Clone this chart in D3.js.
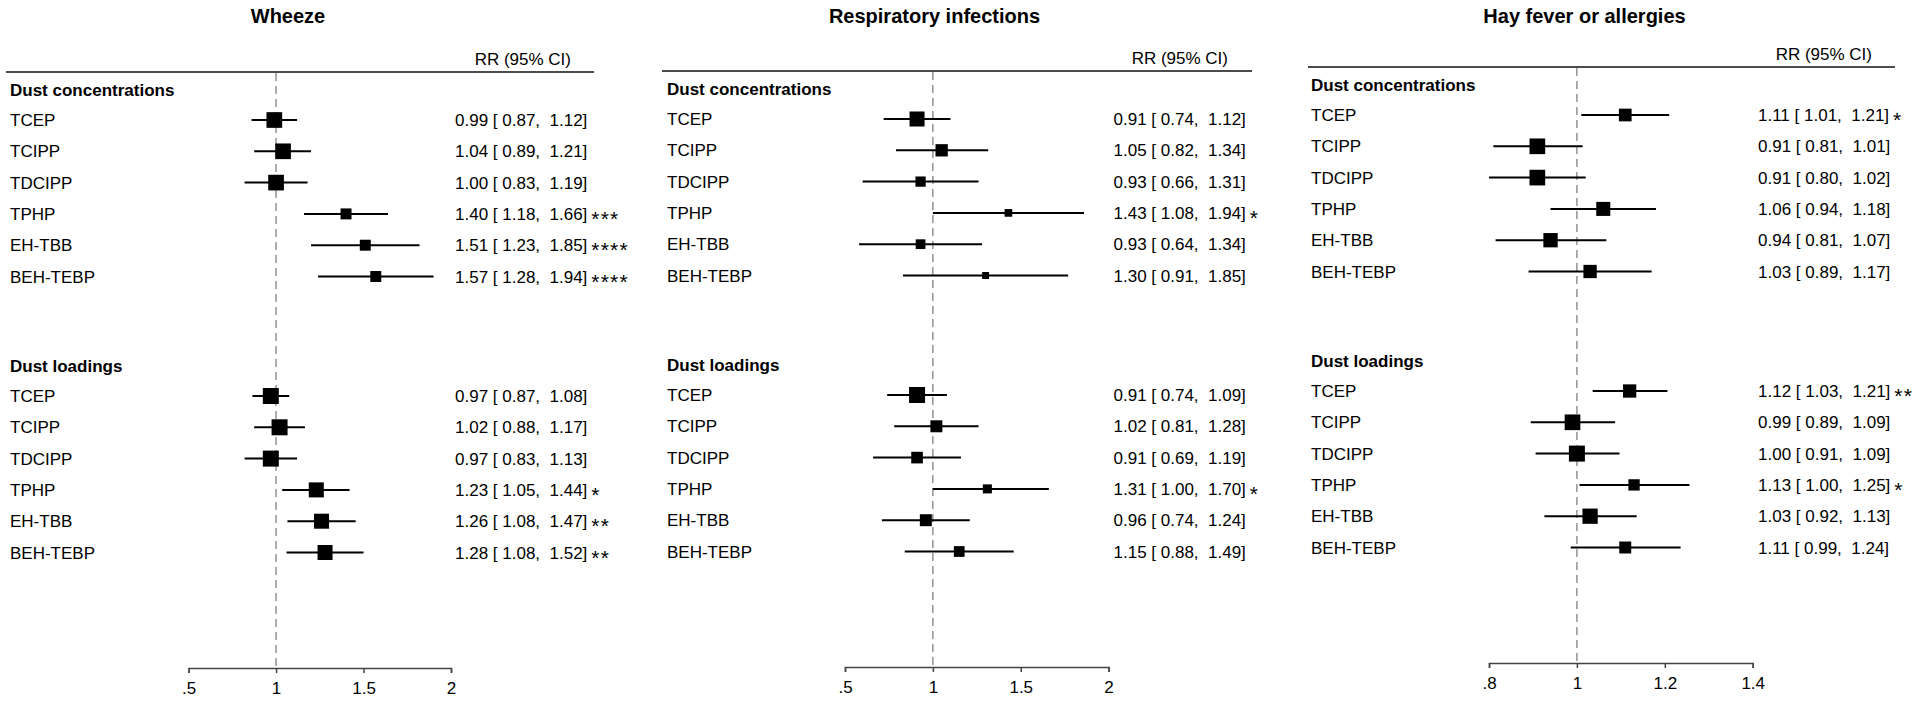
<!DOCTYPE html>
<html>
<head>
<meta charset="utf-8">
<script src="https://cdn.jsdelivr.net/npm/d3@7"></script>
<style>
  html, body { margin: 0; padding: 0; background: #fff; }
  svg { display: block; font-family: "Liberation Sans", Arial, sans-serif; }
  text { white-space: pre; }
</style>
</head>
<body>
<script>
// ---------------- DATA ----------------
const panelTitles = ["Wheeze", "Respiratory infections", "Hay fever or allergies"];
const groupNames = ["Dust concentrations", "Dust loadings"];
const compounds = ["TCEP", "TCIPP", "TDCIPP", "TPHP", "EH-TBB", "BEH-TEBP"];
const columnHeader = "RR (95% CI)";

// tick labels per panel
const wheezeTicks = [0.5, 1, 1.5, 2];
const respTicks = [0.5, 1, 1.5, 2];
const hayTicks = [0.8, 1, 1.2, 1.4];

// Wheeze – dust concentrations
const wheezeConcRR = [0.99, 1.04, 1.00, 1.40, 1.51, 1.57];
const wheezeConcLo = [0.86, 0.875, 0.82, 1.16, 1.20, 1.24];
const wheezeConcHi = [1.12, 1.20, 1.18, 1.64, 1.82, 1.90];
const wheezeConcW = [96, 96, 96, 47, 47, 47];
const wheezeConcText = ["0.99 [ 0.87,  1.12]", "1.04 [ 0.89,  1.21]", "1.00 [ 0.83,  1.19]", "1.40 [ 1.18,  1.66]", "1.51 [ 1.23,  1.85]", "1.57 [ 1.28,  1.94]"];
const wheezeConcSig = ["", "", "", "***", "****", "****"];
// Wheeze – dust loadings
const wheezeLoadRR = [0.97, 1.02, 0.97, 1.23, 1.26, 1.28];
const wheezeLoadLo = [0.865, 0.875, 0.82, 1.035, 1.065, 1.06];
const wheezeLoadHi = [1.075, 1.165, 1.12, 1.42, 1.455, 1.50];
const wheezeLoadW = [100, 100, 100, 88, 88, 88];
const wheezeLoadText = ["0.97 [ 0.87,  1.08]", "1.02 [ 0.88,  1.17]", "0.97 [ 0.83,  1.13]", "1.23 [ 1.05,  1.44]", "1.26 [ 1.08,  1.47]", "1.28 [ 1.08,  1.52]"];
const wheezeLoadSig = ["", "", "", "*", "**", "**"];

// Respiratory infections – dust concentrations
const respConcRR = [0.91, 1.05, 0.93, 1.43, 0.93, 1.30];
const respConcLo = [0.72, 0.79, 0.60, 1.00, 0.58, 0.83];
const respConcHi = [1.10, 1.315, 1.26, 1.86, 1.28, 1.77];
const respConcW = [88, 59, 41, 23, 37, 19];
const respConcText = ["0.91 [ 0.74,  1.12]", "1.05 [ 0.82,  1.34]", "0.93 [ 0.66,  1.31]", "1.43 [ 1.08,  1.94]", "0.93 [ 0.64,  1.34]", "1.30 [ 0.91,  1.85]"];
const respConcSig = ["", "", "", "*", "", ""];
// Respiratory infections – dust loadings
const respLoadRR = [0.91, 1.02, 0.91, 1.31, 0.96, 1.15];
const respLoadLo = [0.74, 0.78, 0.66, 1.00, 0.71, 0.84];
const respLoadHi = [1.08, 1.26, 1.16, 1.66, 1.21, 1.46];
const respLoadW = [100, 56, 53, 32, 56, 45];
const respLoadText = ["0.91 [ 0.74,  1.09]", "1.02 [ 0.81,  1.28]", "0.91 [ 0.69,  1.19]", "1.31 [ 1.00,  1.70]", "0.96 [ 0.74,  1.24]", "1.15 [ 0.88,  1.49]"];
const respLoadSig = ["", "", "", "*", "", ""];

// Hay fever or allergies – dust concentrations
const hayConcRR = [1.11, 0.91, 0.91, 1.06, 0.94, 1.03];
const hayConcLo = [1.01, 0.81, 0.80, 0.94, 0.815, 0.89];
const hayConcHi = [1.21, 1.013, 1.02, 1.18, 1.067, 1.17];
const hayConcW = [63, 96, 96, 77, 80, 69];
const hayConcText = ["1.11 [ 1.01,  1.21]", "0.91 [ 0.81,  1.01]", "0.91 [ 0.80,  1.02]", "1.06 [ 0.94,  1.18]", "0.94 [ 0.81,  1.07]", "1.03 [ 0.89,  1.17]"];
const hayConcSig = ["*", "", "", "", "", ""];
// Hay fever or allergies – dust loadings
const hayLoadRR = [1.12, 0.99, 1.00, 1.13, 1.03, 1.11];
const hayLoadLo = [1.036, 0.895, 0.906, 1.006, 0.926, 0.986];
const hayLoadHi = [1.206, 1.087, 1.097, 1.256, 1.136, 1.236];
const hayLoadW = [69, 96, 100, 50, 91, 56];
const hayLoadText = ["1.12 [ 1.03,  1.21]", "0.99 [ 0.89,  1.09]", "1.00 [ 0.91,  1.09]", "1.13 [ 1.00,  1.25]", "1.03 [ 0.92,  1.13]", "1.11 [ 0.99,  1.24]"];
const hayLoadSig = ["**", "", "", "*", "", ""];

// ---------------- BUILD ----------------
function group(rr, lo, hi, w, txt, sig) {
  return compounds.map((c, i) => ({ name: c, rr: rr[i], lo: lo[i], hi: hi[i], w: w[i], text: txt[i], sig: sig[i] }));
}
const panels = [
  { title: panelTitles[0], ticks: wheezeTicks,
    groups: [group(wheezeConcRR, wheezeConcLo, wheezeConcHi, wheezeConcW, wheezeConcText, wheezeConcSig),
             group(wheezeLoadRR, wheezeLoadLo, wheezeLoadHi, wheezeLoadW, wheezeLoadText, wheezeLoadSig)],
    L: { top: 72, lineX0: 6, lineX1: 594, titleX: 288, rrX: 571, labelX: 10, valueX: 455, x0: 188.6, x1: 451 } },
  { title: panelTitles[1], ticks: respTicks,
    groups: [group(respConcRR, respConcLo, respConcHi, respConcW, respConcText, respConcSig),
             group(respLoadRR, respLoadLo, respLoadHi, respLoadW, respLoadText, respLoadSig)],
    L: { top: 71, lineX0: 662, lineX1: 1252, titleX: 934.5, rrX: 1228, labelX: 667, valueX: 1113.5, x0: 845, x1: 1108.6 } },
  { title: panelTitles[2], ticks: hayTicks,
    groups: [group(hayConcRR, hayConcLo, hayConcHi, hayConcW, hayConcText, hayConcSig),
             group(hayLoadRR, hayLoadLo, hayLoadHi, hayLoadW, hayLoadText, hayLoadSig)],
    L: { top: 67, lineX0: 1308, lineX1: 1895, titleX: 1584.5, rrX: 1872, labelX: 1311, valueX: 1758, x0: 1489, x1: 1752.7 } }
];

const svg = d3.select("body").append("svg").attr("width", 1920).attr("height", 704);
svg.append("rect").attr("width", 1920).attr("height", 704).attr("fill", "#fff");

const side = d3.scaleSqrt().domain([0, 100]).range([0, 16]);
const FS = 17;

panels.forEach(p => {
  const L = p.L;
  const g = svg.append("g");
  const x = d3.scaleLinear().domain([p.ticks[0], p.ticks[p.ticks.length - 1]]).range([L.x0, L.x1]);
  const axisY = L.top + 596;
  const headerY = [L.top + 17.5, L.top + 293.5];
  const rowY = (gi, i) => headerY[gi] + 30.5 + i * 31.3;

  // title
  g.append("text").attr("x", L.titleX).attr("y", 23).attr("text-anchor", "middle")
    .attr("font-size", 20).attr("font-weight", "bold").text(p.title);
  // column header
  g.append("text").attr("x", L.rrX).attr("y", L.top - 7).attr("text-anchor", "end")
    .attr("font-size", FS).text(columnHeader);
  // header rule
  g.append("line").attr("x1", L.lineX0).attr("x2", L.lineX1).attr("y1", L.top).attr("y2", L.top)
    .attr("stroke", "#111").attr("stroke-width", 1.6);

  // null line
  g.append("line").attr("x1", x(1)).attr("x2", x(1)).attr("y1", L.top + 1).attr("y2", axisY)
    .attr("stroke", "#8a8a8a").attr("stroke-width", 1.4).attr("stroke-dasharray", "8,5");

  p.groups.forEach((rows, gi) => {
    g.append("text").attr("x", L.labelX).attr("y", headerY[gi] + 6).attr("font-size", FS)
      .attr("font-weight", "bold").text(groupNames[gi]);

    const rg = g.selectAll(null).data(rows).enter().append("g");
    rg.append("text").attr("x", L.labelX).attr("y", (d, i) => rowY(gi, i) + 6)
      .attr("font-size", FS).text(d => d.name);
    rg.append("line").attr("x1", d => x(d.lo)).attr("x2", d => x(d.hi))
      .attr("y1", (d, i) => rowY(gi, i)).attr("y2", (d, i) => rowY(gi, i))
      .attr("stroke", "#000").attr("stroke-width", 2);
    rg.append("rect")
      .attr("x", d => x(d.rr) - side(d.w) / 2)
      .attr("y", (d, i) => rowY(gi, i) - side(d.w) / 2)
      .attr("width", d => side(d.w)).attr("height", d => side(d.w))
      .attr("fill", "#000");
    rg.append("text").attr("class", "val").attr("x", L.valueX).attr("y", (d, i) => rowY(gi, i) + 6)
      .attr("font-size", FS).text(d => d.text);
    rg.each(function (d, i) {
      if (!d.sig) return;
      const t = d3.select(this).select("text.val").node();
      const w = t.getComputedTextLength();
      d3.select(this).append("text").attr("x", L.valueX + w + 4).attr("y", rowY(gi, i) + 12)
        .attr("font-size", 21).attr("letter-spacing", 1.2).text(d.sig);
    });
  });

  // axis
  const axis = d3.axisBottom(x).tickValues(p.ticks).tickSizeOuter(0).tickSize(5)
    .tickFormat(v => (v === 1 ? "1" : String(v).replace(/^0\./, ".")));
  const ag = g.append("g").attr("transform", `translate(0,${axisY})`).call(axis);
  ag.select(".domain").attr("stroke", "#444").attr("stroke-width", 1.5);
  ag.selectAll(".tick line").attr("stroke", "#444").attr("stroke-width", 1.5);
  ag.selectAll(".tick text").attr("font-size", FS).attr("font-family", "Liberation Sans, Arial, sans-serif")
    .attr("fill", "#000").attr("dy", "1.05em");
});
</script>
</body>
</html>
